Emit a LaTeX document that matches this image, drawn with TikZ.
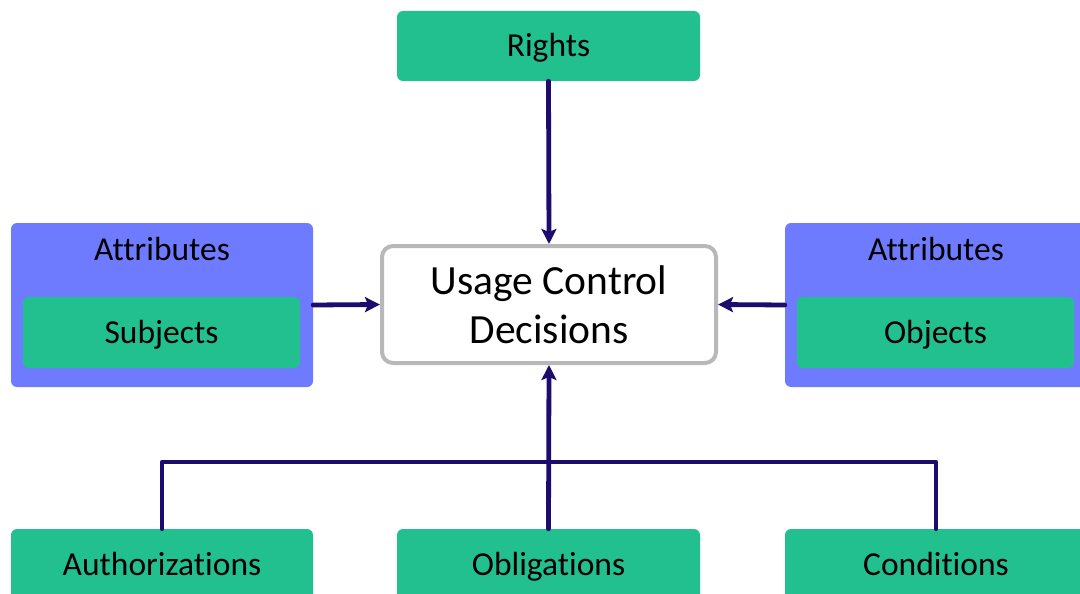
\documentclass[tikz,border=0pt]{standalone}
\usepackage{fontspec}
\setmainfont{Carlito}[Ligatures=NoCommon]
\usetikzlibrary{arrows.meta}
\definecolor{boxgreen}{HTML}{22C08F}
\definecolor{attrblue}{HTML}{6F7BFF}
\definecolor{linkcol}{HTML}{1E0B6E}
\definecolor{frame}{HTML}{B8B8B8}
\tikzset{
  labelfont/.style={font=\fontsize{33.5}{40}\selectfont},
  greenbox/.style={labelfont, fill=boxgreen, rounded corners=6pt, inner sep=0pt, text height=28pt, text depth=7pt},
  attrbox/.style={fill=attrblue, rounded corners=6pt, inner sep=0pt},
  decbox/.style={draw=frame, line width=4pt, fill=white, rounded corners=11pt, align=center, inner sep=0pt, font=\fontsize{41.5}{49}\selectfont},
  title/.style={labelfont, inner sep=0pt, text height=28pt, text depth=7pt},
  conn/.style={draw=linkcol, line width=4.8pt, line cap=round, line join=round},
  arr/.style={conn, -{Stealth[length=15pt, width=15pt, inset=3pt]}},
}
\begin{document}
\begin{tikzpicture}[x=1pt, y=-1pt]
  \useasboundingbox (0,0) rectangle (1080,594);
  \clip (0,0) rectangle (1080,594);

  % top: rights
  \node[greenbox, minimum width=303pt, minimum height=70pt] (rights) at (548.5,46) {Rights};

  % central decision box
  \node[decbox, minimum width=334pt, minimum height=117pt] (ucd) at (549,304.5) {Usage Control\\Decisions};

  % subject attributes (left)
  \node[attrbox, minimum width=302pt, minimum height=164pt] (sattr) at (162,305) {};
  \node[title] (stitle) at (162,250) {Attributes};
  \node[greenbox, minimum width=277pt, minimum height=71pt] (subj) at (161.5,332.5) {Subjects};

  % object attributes (right)
  \node[attrbox, minimum width=302pt, minimum height=164pt] (oattr) at (936,305) {};
  \node[title] (otitle) at (936,250) {Attributes};
  \node[greenbox, minimum width=277pt, minimum height=71pt] (obj) at (935.5,332.5) {Objects};

  % bottom row
  \node[greenbox, minimum width=302pt, minimum height=72pt] (auth) at (162,565) {Authorizations};
  \node[greenbox, minimum width=303pt, minimum height=72pt] (obl) at (548.5,565) {Obligations};
  \node[greenbox, minimum width=302pt, minimum height=72pt] (cond) at (936,565) {Conditions};

  % connectors
  \draw[arr] (rights.south) -- (ucd.north);
  \draw[arr] (sattr.east) -- (ucd.west);
  \draw[arr] (oattr.west) -- (ucd.east);
  \coordinate (bus) at (549,462);
  \draw[conn] (auth.north) |- (bus) -| (cond.north);
  \draw[arr] (obl.north) -- (ucd.south);
\end{tikzpicture}
\end{document}
